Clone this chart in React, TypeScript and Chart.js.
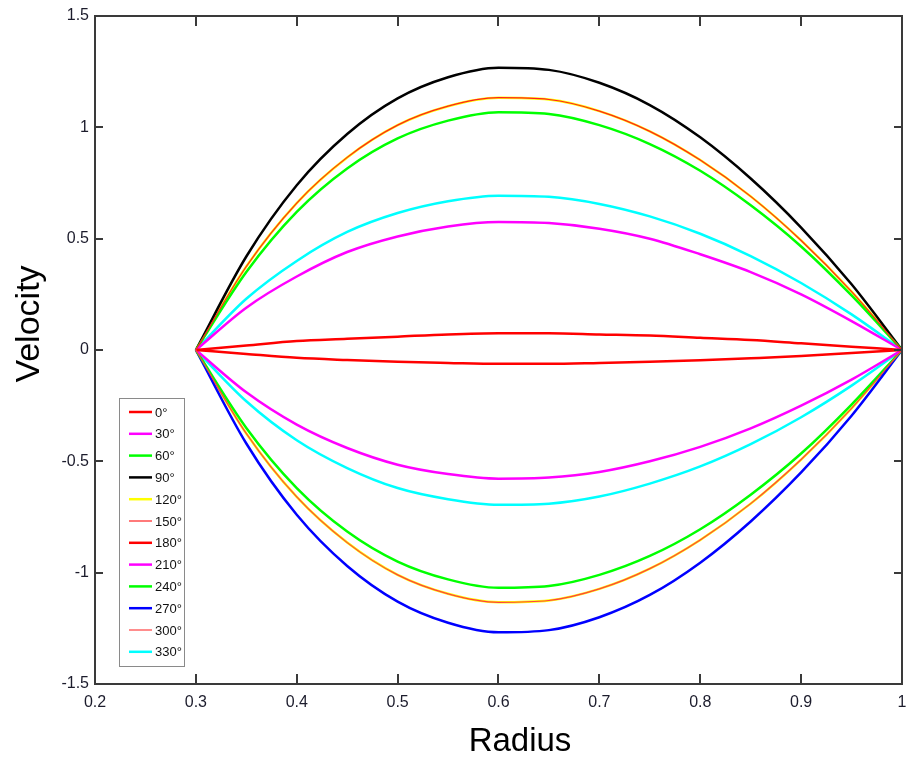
import React, { useEffect, useRef } from "react";
import { Chart, registerables } from "chart.js";

Chart.register(...registerables);

// Radius sample positions (x)
const radius = [0.3, 0.35, 0.4, 0.45, 0.5, 0.55, 0.6, 0.65, 0.7, 0.75, 0.8, 0.85, 0.9, 0.95, 1.0];

// Velocity values (one array per curve)
const v0 = [0, 0.02, 0.04, 0.05, 0.06, 0.07, 0.075, 0.075, 0.07, 0.065, 0.055, 0.045, 0.03, 0.015, 0];
const v30 = [0, 0.19, 0.33, 0.44, 0.51, 0.555, 0.575, 0.57, 0.545, 0.5, 0.43, 0.35, 0.25, 0.13, 0];
const v60 = [0, 0.35, 0.62, 0.815, 0.95, 1.03, 1.068, 1.06, 1.01, 0.925, 0.805, 0.65, 0.465, 0.245, 0];
const v90 = [0, 0.42, 0.74, 0.97, 1.13, 1.225, 1.268, 1.258, 1.2, 1.1, 0.955, 0.77, 0.55, 0.295, 0];
const v120 = [0, 0.375, 0.66, 0.865, 1.01, 1.095, 1.133, 1.125, 1.073, 0.982, 0.853, 0.69, 0.492, 0.262, 0];
const v150 = [0, 0.375, 0.66, 0.865, 1.01, 1.095, 1.133, 1.125, 1.073, 0.982, 0.853, 0.69, 0.492, 0.262, 0];
const v180 = [0, -0.018, -0.035, -0.045, -0.053, -0.058, -0.062, -0.062, -0.058, -0.053, -0.046, -0.037, -0.027, -0.014, 0];
const v210 = [0, -0.19, -0.335, -0.44, -0.515, -0.557, -0.578, -0.573, -0.548, -0.5, -0.435, -0.352, -0.25, -0.133, 0];
const v240 = [0, -0.35, -0.62, -0.815, -0.95, -1.03, -1.068, -1.06, -1.01, -0.925, -0.805, -0.65, -0.465, -0.245, 0];
const v270 = [0, -0.42, -0.74, -0.97, -1.13, -1.225, -1.268, -1.258, -1.2, -1.1, -0.955, -0.77, -0.55, -0.295, 0];
const v300 = [0, -0.375, -0.66, -0.865, -1.01, -1.095, -1.133, -1.125, -1.073, -0.982, -0.853, -0.69, -0.492, -0.262, 0];
const v330 = [0, -0.23, -0.405, -0.53, -0.62, -0.67, -0.695, -0.69, -0.658, -0.6, -0.523, -0.423, -0.302, -0.16, 0];
// curves drawn without their own legend entry
const vYellowLow = [0, -0.375, -0.66, -0.865, -1.01, -1.095, -1.133, -1.125, -1.073, -0.982, -0.853, -0.69, -0.492, -0.262, 0];
const vCyanHigh = [0, 0.23, 0.4, 0.53, 0.615, 0.668, 0.693, 0.688, 0.656, 0.6, 0.522, 0.422, 0.301, 0.16, 0];

const xTicks = [0.2, 0.3, 0.4, 0.5, 0.6, 0.7, 0.8, 0.9, 1];
const xTickLabels = ["0.2", "0.3", "0.4", "0.5", "0.6", "0.7", "0.8", "0.9", "1"];
const yTicks = [-1.5, -1, -0.5, 0, 0.5, 1, 1.5];
const yTickLabels = ["-1.5", "-1", "-0.5", "0", "0.5", "1", "1.5"];

const FONT = "'Liberation Sans', Arial, sans-serif";

type Series = { label: string; data: number[]; color: string; width: number; order: number; legend: boolean };

const series: Series[] = [
  { label: "0°", data: v0, color: "#ff0000", width: 2.5, order: 5, legend: true },
  { label: "30°", data: v30, color: "#ff00ff", width: 2.5, order: 5, legend: true },
  { label: "60°", data: v60, color: "#00ff00", width: 2.5, order: 5, legend: true },
  { label: "90°", data: v90, color: "#000000", width: 2.5, order: 5, legend: true },
  { label: "120°", data: v120, color: "#ffff00", width: 2.5, order: 5, legend: true },
  { label: "150°", data: v150, color: "#ff2020", width: 1.2, order: 1, legend: true },
  { label: "180°", data: v180, color: "#ff0000", width: 2.5, order: 5, legend: true },
  { label: "210°", data: v210, color: "#ff00ff", width: 2.5, order: 5, legend: true },
  { label: "240°", data: v240, color: "#00ff00", width: 2.5, order: 5, legend: true },
  { label: "270°", data: v270, color: "#0000ff", width: 2.5, order: 5, legend: true },
  { label: "300°", data: v300, color: "#ff4040", width: 1.2, order: 1, legend: true },
  { label: "330°", data: v330, color: "#00ffff", width: 2.5, order: 5, legend: true },
  { label: "", data: vYellowLow, color: "#ffff00", width: 2.5, order: 6, legend: false },
  { label: "", data: vCyanHigh, color: "#00ffff", width: 2.5, order: 5, legend: false },
];

const framePlugin = {
  id: "matlabFrame",
  afterDraw(chart: any) {
    const { ctx, chartArea } = chart;
    const { left, right, top, bottom } = chartArea;
    const xs = chart.scales.x;
    const ys = chart.scales.y;
    ctx.save();
    // box
    ctx.strokeStyle = "#3a3a3a";
    ctx.lineWidth = 2;
    ctx.strokeRect(left, top, right - left, bottom - top);
    // inward ticks
    ctx.lineWidth = 2;
    ctx.beginPath();
    xTicks.forEach((v) => {
      const px = Math.round(xs.getPixelForValue(v));
      ctx.moveTo(px, bottom);
      ctx.lineTo(px, bottom - 10);
      ctx.moveTo(px, top);
      ctx.lineTo(px, top + 10);
    });
    yTicks.forEach((v) => {
      const py = Math.round(ys.getPixelForValue(v));
      ctx.moveTo(left, py);
      ctx.lineTo(left + 8, py);
      ctx.moveTo(right, py);
      ctx.lineTo(right - 8, py);
    });
    ctx.stroke();

    // axis titles
    ctx.fillStyle = "#000";
    ctx.textAlign = "center";
    ctx.textBaseline = "middle";
    ctx.font = `33px ${FONT}`;
    ctx.fillText("Radius", 520, 742);
    ctx.save();
    ctx.translate(30, 324);
    ctx.rotate(-Math.PI / 2);
    ctx.font = `34px ${FONT}`;
    ctx.fillText("Velocity", 0, 0);
    ctx.restore();

    // legend box
    const items = chart.data.datasets.filter((d: any) => d.showInLegend);
    const bx = 119, by = 398, bw = 65, bh = 268;
    ctx.fillStyle = "#ffffff";
    ctx.fillRect(bx, by, bw, bh);
    ctx.strokeStyle = "#8a8a8a";
    ctx.lineWidth = 1;
    ctx.strokeRect(bx + 0.5, by + 0.5, bw, bh);
    ctx.font = `13px ${FONT}`;
    ctx.textAlign = "left";
    ctx.textBaseline = "middle";
    items.forEach((d: any, i: number) => {
      const cy = 412 + i * 21.8;
      ctx.strokeStyle = d.borderColor;
      ctx.lineWidth = d.borderWidth;
      ctx.beginPath();
      ctx.moveTo(129, cy);
      ctx.lineTo(152, cy);
      ctx.stroke();
      ctx.fillStyle = "#111";
      ctx.fillText(d.label, 155, cy + 1);
    });
    ctx.restore();
  },
};

export default function App() {
  const ref = useRef<HTMLCanvasElement | null>(null);

  useEffect(() => {
    if (!ref.current) return;
    const chart = new Chart(ref.current, {
      type: "line",
      data: {
        datasets: series.map((s) => ({
          label: s.label,
          data: radius.map((r, i) => ({ x: r, y: s.data[i] })),
          borderColor: s.color,
          backgroundColor: s.color,
          borderWidth: s.width,
          pointRadius: 0,
          fill: false,
          cubicInterpolationMode: "monotone",
          order: s.order,
          showInLegend: s.legend,
        })) as any,
      },
      options: {
        animation: false,
        responsive: true,
        maintainAspectRatio: false,
        layout: { padding: { top: 16, right: 7, left: 0, bottom: 0 } },
        plugins: { legend: { display: false }, tooltip: { enabled: false } },
        scales: {
          x: {
            type: "linear",
            min: 0.2,
            max: 1,
            afterBuildTicks: (scale: any) => {
              scale.ticks = xTicks.map((v) => ({ value: v }));
            },
            afterFit: (scale: any) => {
              scale.height = 79;
              scale.paddingRight = 0;
              scale.paddingLeft = 0;
            },
            ticks: {
              callback: (v: any) => {
                const i = xTicks.findIndex((t) => Math.abs(t - Number(v)) < 1e-6);
                return i >= 0 ? xTickLabels[i] : "";
              },
              font: { family: FONT, size: 16 },
              color: "#1c1c2c",
              padding: 9,
              maxRotation: 0,
              autoSkip: false,
            },
            grid: { display: false, drawTicks: false },
            border: { display: false },
          },
          y: {
            type: "linear",
            min: -1.5,
            max: 1.5,
            afterBuildTicks: (scale: any) => {
              scale.ticks = yTicks.map((v) => ({ value: v }));
            },
            afterFit: (scale: any) => {
              scale.width = 95;
            },
            ticks: {
              callback: (v: any) => {
                const i = yTicks.findIndex((t) => Math.abs(t - Number(v)) < 1e-6);
                return i >= 0 ? yTickLabels[i] : "";
              },
              font: { family: FONT, size: 16 },
              color: "#1c1c2c",
              padding: 6,
              autoSkip: false,
            },
            grid: { display: false, drawTicks: false },
            border: { display: false },
          },
        },
      },
      plugins: [framePlugin],
    });
    return () => chart.destroy();
  }, []);

  return (
    <div style={{ position: "fixed", left: 0, top: 0, width: 909, height: 763, background: "#fff" }}>
      <canvas ref={ref} />
    </div>
  );
}
